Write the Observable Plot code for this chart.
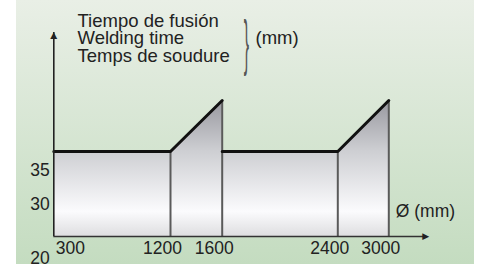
<!DOCTYPE html>
<html><head><meta charset="utf-8">
<script src="https://cdn.jsdelivr.net/npm/d3@7"></script>
<script src="https://cdn.jsdelivr.net/npm/@observablehq/plot@0.6"></script>
<style>
html,body{margin:0;padding:0;background:#fff;}
#chart{position:absolute;left:16px;top:0;width:458px;height:264px;background:linear-gradient(#e9efe6,#c4dcc0);overflow:hidden;}
</style></head><body><div id="chart"></div>
<script>
// Data
const diameters = [300, 1200, 1600, 2400, 3000];
const xTickLabels = ["300", "1200", "1600", "2400", "3000"];
const yTicks = [20, 30, 35];
const yTickLabels = ["20", "30", "35"];
const baseline = 25;       // time at the x axis
const flatTime = 37.5;     // plateau level
const peakTime = 45;       // ramp top
const yAxisTop = 55;
const xAxisEnd = 3440;
const titleLines = ["Tiempo de fusión", "Welding time", "Temps de soudure"];
const unitLabel = "(mm)";
const xLabel = "Ø (mm)";

// profile: plateau then ramp, twice
const profile = [
  {d: diameters[0], t: flatTime, s: 0},
  {d: diameters[1], t: flatTime, s: 0},
  {d: diameters[2], t: peakTime, s: 0},
  {d: diameters[2], t: flatTime, s: 1},
  {d: diameters[3], t: flatTime, s: 1},
  {d: diameters[4], t: peakTime, s: 1}
];
const dividers = [
  {d: diameters[1], t: flatTime},
  {d: diameters[2], t: peakTime},
  {d: diameters[3], t: flatTime},
  {d: diameters[4], t: peakTime}
];
const xTicks = diameters.map((d, i) => ({d, label: xTickLabels[i]}));
const yTickData = yTicks.map((v, i) => ({v, label: yTickLabels[i]}));

const font = "Liberation Sans, Arial, Helvetica, sans-serif";
const fs = 17.5;
const tfs = 18.5;

const gradientDefs = (index, scales) => {
  const y = scales.y;
  const defs = d3.create("svg:defs");
  const lg = defs.append("linearGradient").attr("id", "fillGrad")
    .attr("gradientUnits", "userSpaceOnUse")
    .attr("x1", 0).attr("x2", 0)
    .attr("y1", y(peakTime)).attr("y2", y(baseline));
  [[0, "#98989f"], [0.37, "#cdced2"], [0.82, "#fbfbfd"], [1, "#dedee0"]]
    .forEach(([o, c]) => lg.append("stop").attr("offset", o).attr("stop-color", c));
  return defs.node();
};

const plot = Plot.plot({
  width: 458,
  height: 264,
  margin: 0,
  style: {background: "transparent", fontFamily: font, color: "#222"},
  x: {type: "linear", domain: diameters, range: [37.3, 154, 205.7, 321.3, 372.3], axis: null},
  y: {type: "linear", domain: [20, 25, 45], range: [256, 236, 100], axis: null},
  marks: [
    gradientDefs,
    Plot.areaY(profile, {x: "d", y1: baseline, y2: "t", z: "s", fill: "url(#fillGrad)"}),
    Plot.ruleX(dividers, {x: "d", y1: baseline, y2: "t", stroke: "#5a5a5a", strokeWidth: 2}),
    Plot.line(profile, {x: "d", y: "t", z: "s", stroke: "#111", strokeWidth: 3, strokeLinejoin: "miter"}),
    Plot.ruleY([baseline], {x1: diameters[0], x2: xAxisEnd, stroke: "#333", strokeWidth: 1.6}),
    Plot.ruleX([diameters[0]], {y1: baseline, y2: yAxisTop, stroke: "#222", strokeWidth: 1.6}),
    Plot.text([0], {x: xAxisEnd, y: baseline, text: () => "▶", fontSize: 9, textAnchor: "end", dx: 3, fill: "#222", fontFamily: "DejaVu Sans"}),
    Plot.text([0], {x: diameters[0], y: yAxisTop, text: () => "▲", fontSize: 9, fill: "#222", dy: 3, fontFamily: "DejaVu Sans"}),
    // x tick labels
    Plot.text(xTicks.slice(0, 1), {x: "d", y: baseline, text: "label", textAnchor: "start", dx: 2, dy: 12, fontSize: fs}),
    Plot.text(xTicks.slice(1), {x: "d", y: baseline, text: "label", textAnchor: "middle", dx: -8, dy: 12, fontSize: fs}),
    // y tick labels
    Plot.text(yTickData, {x: diameters[0], y: "v", text: "label", textAnchor: "end", dx: -4, dy: 2, fontSize: fs}),
    // x axis label
    Plot.text([xLabel], {x: diameters[4], y: baseline, text: d => d, textAnchor: "start", dx: 7, dy: -25, fontSize: fs}),
    // title
    Plot.text([titleLines.join("\n")], {frameAnchor: "top-left", text: d => d, textAnchor: "start", lineAnchor: "top", dx: 61, dy: 14, lineHeight: 0.94, fontSize: tfs}),
    Plot.text(["}"], {frameAnchor: "top-left", text: d => d, textAnchor: "middle", lineAnchor: "middle", dx: 230, dy: 41, fontSize: 20, fill: "#555"}),
    Plot.text([unitLabel], {frameAnchor: "top-left", text: d => d, textAnchor: "start", lineAnchor: "middle", dx: 239, dy: 38, fontSize: tfs})
  ]
});
document.getElementById("chart").appendChild(plot);

// stretch the brace vertically
const braceText = Array.from(plot.querySelectorAll("text")).find(t => t.textContent === "}");
if (braceText) {
  const bb = braceText.getBBox();
  const cx = bb.x + bb.width / 2, cy = bb.y + bb.height / 2;
  const prev = braceText.getAttribute("transform") || "";
  braceText.setAttribute("transform", `${prev} translate(${cx},${cy}) scale(0.8,3.1) translate(${-cx},${-cy})`);
}
</script></body></html>
